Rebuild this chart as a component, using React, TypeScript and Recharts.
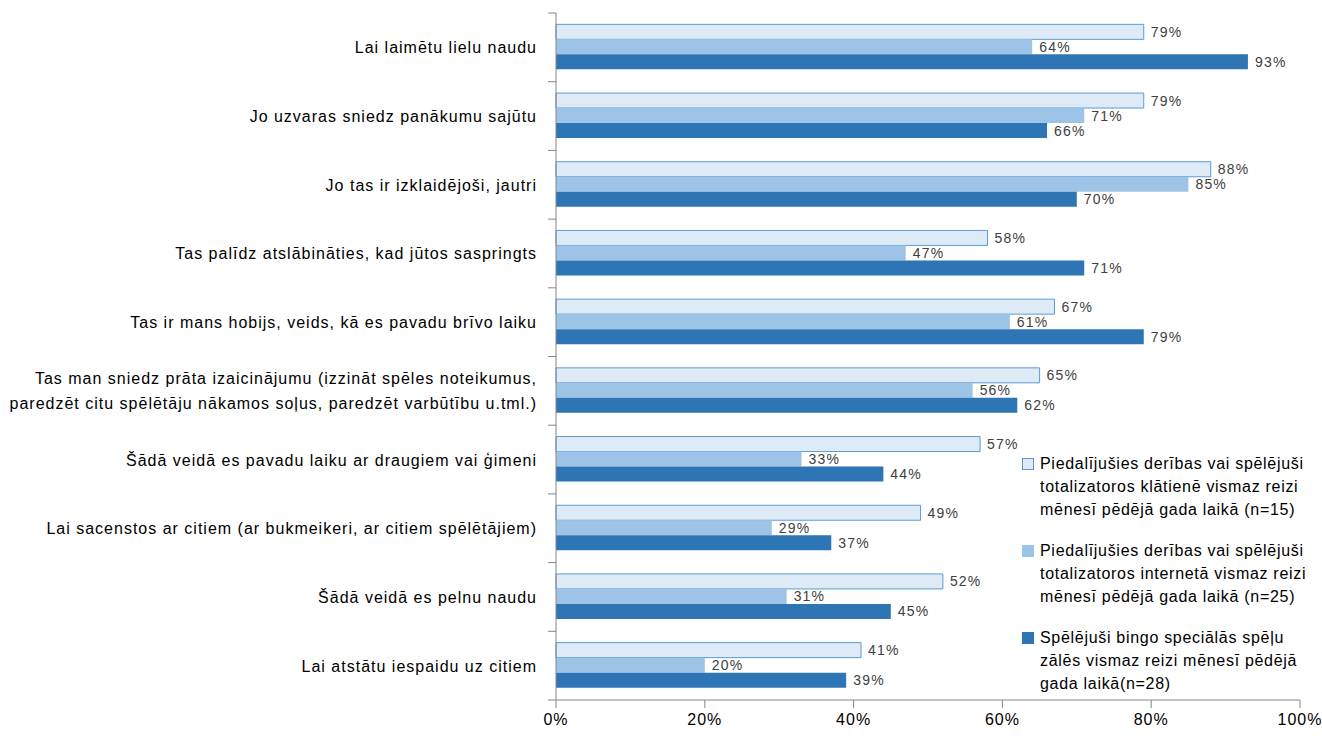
import { Bar, BarChart, LabelList, Legend, XAxis, YAxis } from 'recharts';

const categories = [
  'Lai laimētu lielu naudu',
  'Jo uzvaras sniedz panākumu sajūtu',
  'Jo tas ir izklaidējoši, jautri',
  'Tas palīdz atslābināties, kad jūtos saspringts',
  'Tas ir mans hobijs, veids, kā es pavadu brīvo laiku',
  'Tas man sniedz prāta izaicinājumu (izzināt spēles noteikumus,\nparedzēt citu spēlētāju nākamos soļus, paredzēt varbūtību u.tml.)',
  'Šādā veidā es pavadu laiku ar draugiem vai ģimeni',
  'Lai sacenstos ar citiem (ar bukmeikeri, ar citiem spēlētājiem)',
  'Šādā veidā es pelnu naudu',
  'Lai atstātu iespaidu uz citiem',
];

const totalizatorLive = [79, 79, 88, 58, 67, 65, 57, 49, 52, 41];
const totalizatorOnline = [64, 71, 85, 47, 61, 56, 33, 29, 31, 20];
const bingoHalls = [93, 66, 70, 71, 79, 62, 44, 37, 45, 39];

const seriesNames = [
  ['Piedalījušies derības vai spēlējuši', 'totalizatoros klātienē vismaz reizi', 'mēnesī pēdējā gada laikā (n=15)'],
  ['Piedalījušies derības vai spēlējuši', 'totalizatoros internetā vismaz reizi', 'mēnesī pēdējā gada laikā (n=25)'],
  ['Spēlējuši bingo speciālās spēļu', 'zālēs vismaz reizi mēnesī pēdējā', 'gada laikā(n=28)'],
];

const xTicks = [0, 20, 40, 60, 80, 100];

const data = categories.map((name, i) => ({
  name,
  live: totalizatorLive[i],
  online: totalizatorOnline[i],
  bingo: bingoHalls[i],
}));

const FONT = '"Liberation Sans", Arial, sans-serif';
const AXIS = '#868686';
const PLOT_TOP = 13;
const PLOT_H = 687;
const BAND = PLOT_H / categories.length;

const swatches = [
  { fill: '#deebf7', stroke: '#5b9bd5' },
  { fill: '#9dc3e6', stroke: '#9dc3e6' },
  { fill: '#2e75b6', stroke: '#2e75b6' },
];

function CategoryTick({ x, y, payload, index }: any) {
  const lines = String(payload.value).split('\n');
  const lh = 25;
  const start = y - ((lines.length - 1) * lh) / 2;
  const top = y - BAND / 2;
  return (
    <g>
      <line x1={x + 11} x2={x + 19} y1={top} y2={top} stroke={AXIS} />
      {index === categories.length - 1 && (
        <line x1={x + 11} x2={x + 19} y1={top + BAND} y2={top + BAND} stroke={AXIS} />
      )}
      <text
        x={x}
        y={start}
        textAnchor="end"
        dominantBaseline="central"
        fontSize={16}
        letterSpacing={1}
        fill="#000"
        fontFamily={FONT}
      >
        {lines.map((l, i) => (
          <tspan key={i} x={x} dy={i === 0 ? 0 : lh}>
            {l}
          </tspan>
        ))}
      </text>
    </g>
  );
}

function renderLegend() {
  return (
    <div style={{ fontFamily: FONT, fontSize: 16, letterSpacing: 0.7, color: '#000', lineHeight: '23px' }}>
      {seriesNames.map((lines, i) => (
        <div key={i} style={{ display: 'flex', alignItems: 'flex-start', marginBottom: 18 }}>
          <span
            style={{
              width: 10,
              height: 10,
              marginTop: 6,
              marginRight: 6,
              flex: 'none',
              background: swatches[i].fill,
              border: `1px solid ${swatches[i].stroke}`,
            }}
          />
          <div>
            {lines.map((l, j) => (
              <div key={j} style={{ whiteSpace: 'nowrap' }}>
                {l}
              </div>
            ))}
          </div>
        </div>
      ))}
    </div>
  );
}

const labelStyle = { fontSize: 14, letterSpacing: 1.2, fill: '#404040', fontFamily: FONT };
const fmt = (v: any) => `${v}%`;

export default function App() {
  return (
    <div style={{ position: 'absolute', left: 0, top: 0 }}>
      <BarChart
        width={1322}
        height={736}
        data={data}
        layout="vertical"
        margin={{ top: PLOT_TOP, right: 22, left: 0, bottom: 0 }}
        barCategoryGap="16.5%"
        barGap={0}
      >
        <XAxis
          type="number"
          domain={[0, 100]}
          ticks={xTicks}
          tickFormatter={fmt}
          stroke={AXIS}
          tickSize={8}
          tickMargin={6}
          height={36}
          tick={{ fontSize: 16, letterSpacing: 1, fill: '#000', fontFamily: FONT }}
          interval={0}
        />
        <YAxis
          type="category"
          dataKey="name"
          width={556}
          stroke={AXIS}
          tickLine={false}
          tickSize={8}
          tickMargin={11}
          interval={0}
          tick={<CategoryTick />}
        />
        <Legend
          layout="vertical"
          align="center"
          verticalAlign="middle"
          content={renderLegend}
          wrapperStyle={{ position: 'absolute', left: 1022, top: 452, width: 300 }}
        />
        <Bar dataKey="live" fill={swatches[0].fill} stroke={swatches[0].stroke} strokeWidth={1} isAnimationActive={false}>
          <LabelList dataKey="live" position="right" offset={7} formatter={fmt} style={labelStyle} />
        </Bar>
        <Bar dataKey="online" fill={swatches[1].fill} isAnimationActive={false}>
          <LabelList dataKey="online" position="right" offset={7} formatter={fmt} style={labelStyle} />
        </Bar>
        <Bar dataKey="bingo" fill={swatches[2].fill} isAnimationActive={false}>
          <LabelList dataKey="bingo" position="right" offset={7} formatter={fmt} style={labelStyle} />
        </Bar>
      </BarChart>
    </div>
  );
}
